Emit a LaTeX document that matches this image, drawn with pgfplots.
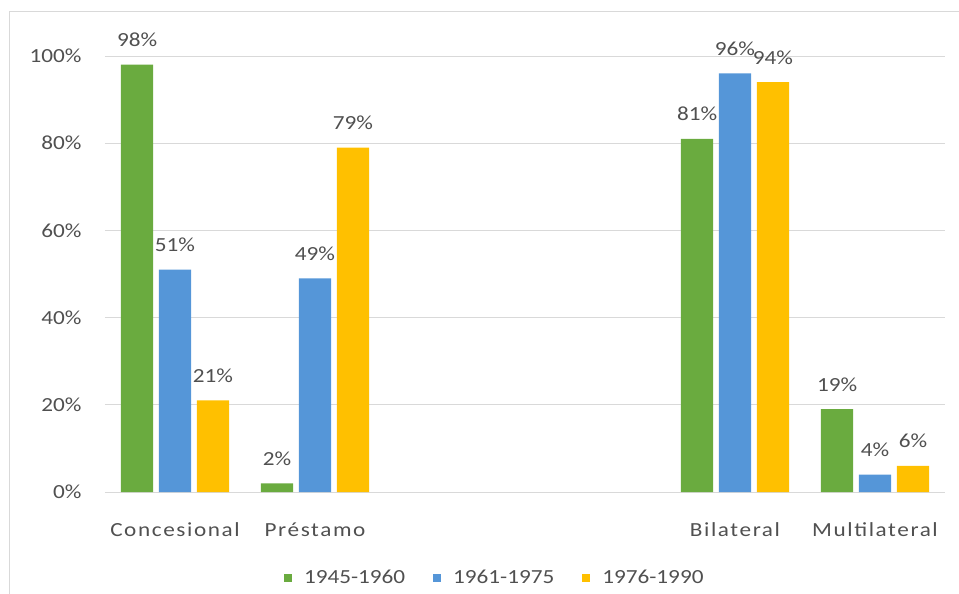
\documentclass[border=0pt]{standalone}
\usepackage{pgfplots}
\pgfplotsset{compat=1.18}
\usepackage{fontspec}
\setmainfont{Carlito}[FakeStretch=1.16]
\newfontfamily\catfont{Carlito}[FakeStretch=1.16,LetterSpace=8]
\definecolor{txt}{HTML}{505050}
\definecolor{grd}{HTML}{D9D9D9}
\definecolor{cgreen}{HTML}{6AAB3F}
\definecolor{cblue}{HTML}{5596D8}
\definecolor{cyellow}{HTML}{FFC000}
\newcommand\fsz{\fontsize{20bp}{24bp}\selectfont\color{txt}}
\begin{document}
\begin{tikzpicture}
\begin{axis}[
  at={(0,0)}, anchor=south west,
  scale only axis, width=840bp, height=436bp,
  xmin=-0.5, xmax=5.5, ymin=0, ymax=100,
  xtick={0,1,4,5},
  xticklabels={Concesional,Préstamo,Bilateral,Multilateral},
  xticklabel style={font=\catfont\fsz, anchor=base, yshift=-40bp},
  ytick={0,20,...,100},
  yticklabel={\pgfmathprintnumber{\tick}\%},
  yticklabel style={font=\fsz, anchor=east, xshift=-20bp},
  /pgf/number format/assume math mode=true,
  axis line style={draw=none},
  tick style={draw=none},
  ymajorgrids, major grid style={grd, line width=0.9bp},
  ybar, bar width=0.23,
  nodes near coords={\pgfmathprintnumber{\pgfplotspointmeta}\%},
  nodes near coords style={font=\fsz, anchor=base, yshift=18bp},
  legend style={at={(0.464,-0.197)}, anchor=center, draw=none, fill=none,
    legend columns=3, font=\fsz,
    /tikz/every odd column/.append style={column sep=10bp},
    /tikz/every even column/.append style={column sep=26bp}},
  legend image code/.code={\fill[#1,draw=none] (0bp,-4bp) rectangle (8bp,4bp);},
  legend cell align=left,
]
\addplot[fill=cgreen, draw=none, bar shift=-0.271] coordinates {(0,98) (1,2) (4,81) (5,19)};
\addplot[fill=cblue, draw=none, bar shift=0] coordinates {(0,51) (1,49) (4,96) (5,4)};
\addplot[fill=cyellow, draw=none, bar shift=0.271] coordinates {(0,21) (1,79) (4,94) (5,6)};
\legend{1945-1960,1961-1975,1976-1990}
\end{axis}
\draw[grd, line width=1bp] (-95bp,-102bp) -- (-95bp,480bp) -- (854bp,480bp);
\pgfresetboundingbox
\path (-105bp,-102bp) rectangle (854bp,492bp);
\end{tikzpicture}
\end{document}
